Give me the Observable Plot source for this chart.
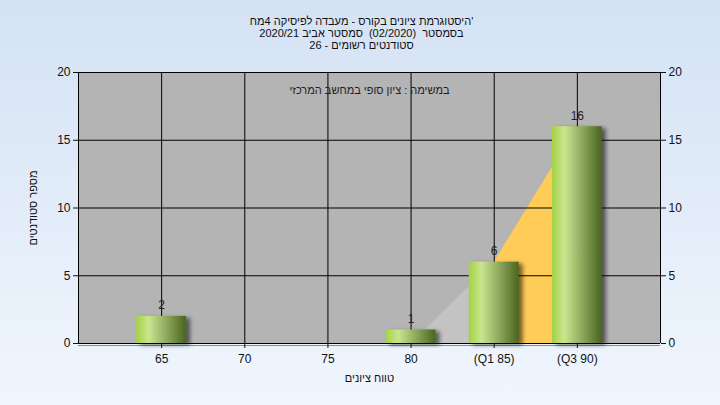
<!DOCTYPE html>
<html>
<head>
<meta charset="utf-8">
<script src="https://cdn.jsdelivr.net/npm/d3@7"></script>
<script src="https://cdn.jsdelivr.net/npm/@observablehq/plot@0.6"></script>
<style>
  html, body { margin: 0; padding: 0; }
  body { width: 720px; height: 405px; background: linear-gradient(#d4e2f4, #f0f6fd); overflow: hidden; }
  #chart svg { display: block; }
</style>
</head>
<body>
<div id="chart"></div>
<script>
// ---- data ----
const categories = ["65", "70", "75", "80", "(Q1 85)", "(Q3 90)"];
const counts = [2, 0, 0, 1, 6, 16];
const yTicks = [0, 5, 10, 15, 20];
// background trend segments (start category, end category, start value, end value)
const lowSegCats = ["80", "(Q1 85)"];
const lowSegValues = [0, 6];
const iqrSegCats = ["(Q1 85)", "(Q3 90)"];
const iqrSegValues = [6, 16];
const titleLines = [
  "'היסטוגרמת ציונים בקורס - מעבדה לפיסיקה 4מח",
  "בסמסטר  (02/2020)  סמסטר אביב 2020/21",
  "סטודנטים רשומים - 26"
];
const innerTitle = "במשימה : ציון סופי במחשב המרכזי";
const xTitle = "טווח ציונים";
const yTitle = "מספר סטודנטים";

// ---- derived tables ----
const pos = c => categories.indexOf(c) + 1;
const bars = categories.map((c, i) => ({cat: c, p: i + 1, n: counts[i]}));
const lowSeg = lowSegCats.map((c, i) => ({p: pos(c), v: lowSegValues[i]}));
const iqrSeg = iqrSegCats.map((c, i) => ({p: pos(c), v: iqrSegValues[i]}));
const half = 0.3;

const defs = () => {
  const g = document.createElementNS("http://www.w3.org/2000/svg", "g");
  g.innerHTML = `<defs>
    <linearGradient id="barGrad" x1="0" x2="1" y1="0" y2="0">
      <stop offset="0%" stop-color="#a3d243"/>
      <stop offset="25%" stop-color="#cae58f"/>
      <stop offset="55%" stop-color="#98b265"/>
      <stop offset="100%" stop-color="#4a6420"/>
    </linearGradient>
    <filter id="shadow" x="-20%" y="-20%" width="150%" height="150%">
      <feDropShadow dx="4" dy="2" stdDeviation="2" flood-color="#000" flood-opacity="0.55"/>
    </filter>
  </defs>`;
  return g;
};

const chart = Plot.plot({
  width: 720,
  height: 405,
  marginLeft: 78,
  marginRight: 60,
  marginTop: 72,
  marginBottom: 62,
  style: {fontFamily: "'Liberation Sans', Arial, sans-serif", fontSize: "12px", background: "transparent", color: "#111"},
  x: {domain: [0, categories.length + 1]},
  y: {domain: [0, 20]},
  marks: [
    defs,
    Plot.frame({fill: "#b4b4b4", stroke: null}),
    Plot.areaY(lowSeg, {x: "p", y: "v", fill: "#c3c3c3"}),
    Plot.areaY(iqrSeg, {x: "p", y: "v", fill: "#ffcc57"}),
    Plot.gridX(categories.map(pos), {stroke: "#000", strokeOpacity: 1}),
    Plot.gridY(yTicks, {stroke: "#000", strokeOpacity: 1}),
    Plot.ruleY([0], {stroke: "#8a8a8a", dy: 2}),
    Plot.rectY(bars.filter(d => d.n > 0), {x1: d => d.p - half, x2: d => d.p + half, y1: 0, y2: "n", fill: "url(#barGrad)"}),
    Plot.text(bars.filter(d => d.n > 0), {x: "p", y: "n", text: d => String(d.n), lineAnchor: "bottom", dy: -7, fill: "#222", fontSize: 12}),
    Plot.ruleY([0], {stroke: "#000"}),
    Plot.ruleX([0], {stroke: "#000", y1: 0, y2: 20}),
    Plot.ruleX([categories.length + 1], {stroke: "#000", y1: 0, y2: 20}),
    Plot.axisY({anchor: "left", ticks: yTicks, tickSize: 5, tickPadding: 3, label: null, fontSize: 12}),
    Plot.axisY({anchor: "right", ticks: yTicks, tickSize: 5, tickPadding: 3, label: null, fontSize: 12}),
    Plot.axisX({ticks: categories.map(pos), tickFormat: p => categories[p - 1], tickSize: 5, tickPadding: 6, label: null, fontSize: 12}),
    Plot.text([titleLines[0]], {frameAnchor: "top", text: d => d, dx: -8, dy: -55, fontSize: 11, fill: "#111"}),
    Plot.text([titleLines[1]], {frameAnchor: "top", text: d => d, dx: -8, dy: -43, fontSize: 11, fill: "#111"}),
    Plot.text([titleLines[2]], {frameAnchor: "top", text: d => d, dx: -8, dy: -31, fontSize: 11, fill: "#111"}),
    Plot.text([innerTitle], {frameAnchor: "top", text: d => d, dx: 0, dy: 14, fontSize: 11, fill: "#222"}),
    Plot.text([xTitle], {frameAnchor: "bottom", text: d => d, dy: 38, fontSize: 11, fill: "#111"}),
    Plot.text([yTitle], {frameAnchor: "left", textAnchor: "middle", text: d => d, dx: -45, rotate: -90, fontSize: 11, fill: "#111"})
  ]
});

// drop shadow on bars; right-to-left paragraph for the first title line
chart.querySelectorAll("rect").forEach(r => {
  if (r.getAttribute("fill") === "url(#barGrad)" || (r.parentNode && r.parentNode.getAttribute("fill") === "url(#barGrad)")) {
    r.setAttribute("filter", "url(#shadow)");
  }
});
chart.querySelectorAll("text").forEach(t => {
  if (t.textContent === titleLines[0]) t.setAttribute("direction", "rtl");
});
document.getElementById("chart").appendChild(chart);
</script>
</body>
</html>
